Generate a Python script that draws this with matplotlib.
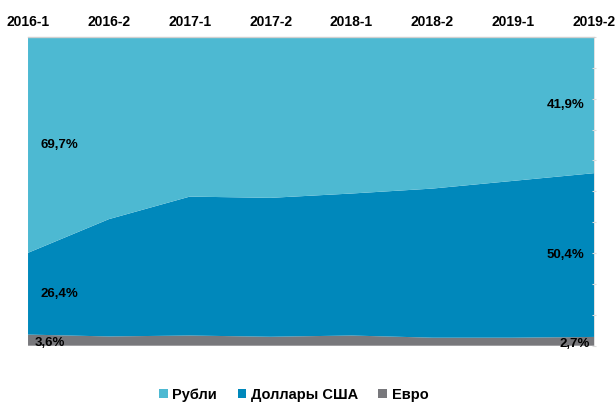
import numpy as np
import matplotlib
matplotlib.use("Agg")
import matplotlib.pyplot as plt
from matplotlib.patches import Patch

plt.rcParams['font.family'] = ['Liberation Sans', 'DejaVu Sans']

# periods (half-years)
periods = ['2016-1', '2016-2', '2017-1', '2017-2', '2018-1', '2018-2', '2019-1', '2019-2']

euro = [3.6, 3.0, 3.3, 2.9, 3.3, 2.6, 2.6, 2.7]
usd = [26.4, 38.0, 45.0, 45.0, 46.0, 48.3, 50.8, 50.4]
rub = [69.7, 59.0, 51.7, 52.1, 50.7, 49.1, 46.6, 41.9]

names = ['Рубли', 'Доллары США', 'Евро']
c_rub = '#4db9d2'
c_usd = '#0088bb'
c_eur = '#78787c'

# 100% stacked, like the original
raw = np.array([euro, usd, rub], dtype=float)
share = raw / raw.sum(axis=0) * 100
x = np.arange(len(periods))

fig = plt.figure(figsize=(6.16, 4.05), dpi=100)
ax = fig.add_axes([0.0455, 0.1464, 0.9188, 0.7622])

ax.stackplot(x, share, colors=[c_eur, c_usd, c_rub], linewidth=0)
ax.set_xlim(0, len(periods) - 1)
ax.set_ylim(0, 100)

ax.xaxis.tick_top()
ax.set_xticks(x)
ax.set_xticklabels(periods, fontsize=10, fontweight='bold')
ax.tick_params(axis='x', length=0, pad=6)
ax.set_yticks(np.arange(0, 101, 10))
ax.yaxis.tick_right()
ax.tick_params(axis='y', length=3, direction='inout', color='#dcdcdc', labelright=False)
for s in ['left', 'bottom']:
    ax.spines[s].set_visible(False)
ax.spines['top'].set_color('#d0d0d0')
ax.spines['right'].set_color('#dcdcdc')
ax.spines['top'].set_linewidth(1.0)
ax.spines['right'].set_linewidth(0.6)

# value labels at the band middles, first and last period
cum = np.cumsum(share, axis=0)
lower = np.vstack([np.zeros(len(x)), cum[:-1]])
mid = (lower + cum) / 2
series = [euro, usd, rub]
fmt = lambda v: f'{v:.1f}%'.replace('.', ',')
for k, vals in enumerate(series):
    yl = mid[k, 0]
    yr = mid[k, -1]
    dx_l = 5 if k == 0 else 9
    dy = -2 if k == 0 else 0
    ax.annotate(fmt(vals[0]), (0, yl), xytext=(dx_l, dy), textcoords='offset points',
                ha='left', va='center', fontsize=9.5, fontweight='bold', color='black')
    ax.annotate(fmt(vals[-1]), (x[-1], yr), xytext=(-3 if k == 0 else -7, dy),
                textcoords='offset points', ha='right', va='center',
                fontsize=9.5, fontweight='bold', color='black')

handles = [Patch(facecolor=c_rub), Patch(facecolor=c_usd), Patch(facecolor=c_eur)]
fig.legend(handles, names, loc='lower center', bbox_to_anchor=(0.477, -0.025), ncol=3,
           frameon=False, handlelength=0.6, handleheight=0.6, handletextpad=0.3,
           columnspacing=1.4, prop={'size': 10.5, 'weight': 'bold'})

fig.savefig('out.png', dpi=100)
